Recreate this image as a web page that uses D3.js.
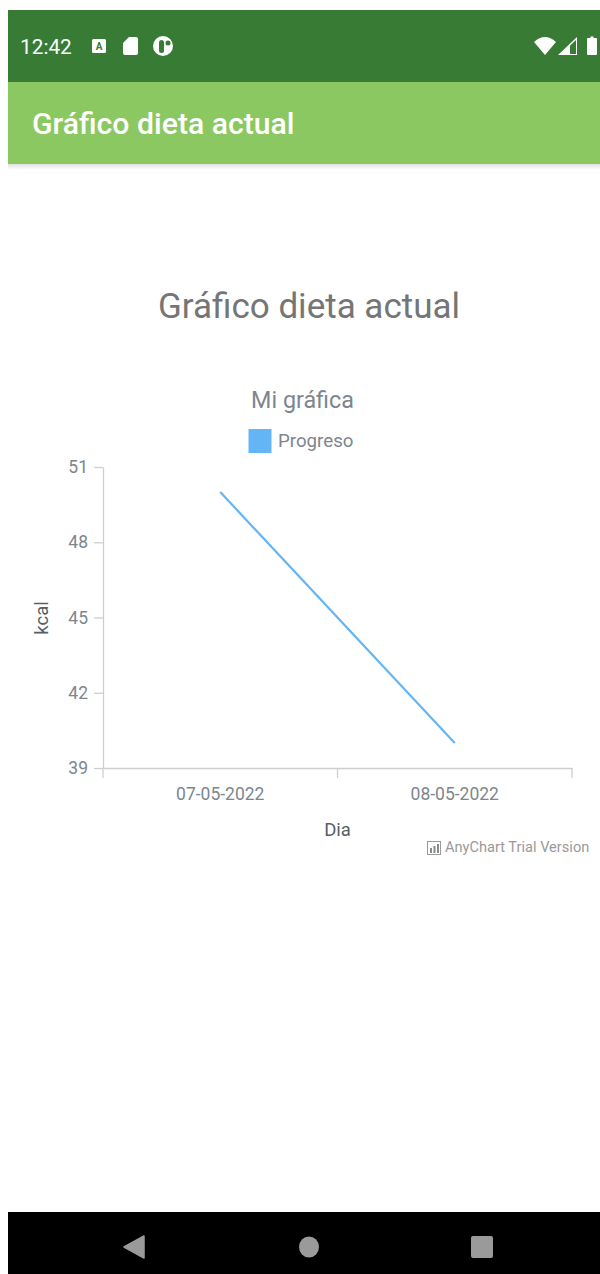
<!DOCTYPE html>
<html>
<head>
<meta charset="utf-8">
<script src="https://cdn.jsdelivr.net/npm/d3@7"></script>
<style>
html, body { margin: 0; padding: 0; background: #fff; }
svg { display: block; font-family: Roboto, sans-serif; }
.axis .domain, .axis line { stroke: #cecece; stroke-width: 1.3; }
.axis text { fill: #7c868e; font-size: 17.5px; font-family: Roboto, sans-serif; }
</style>
</head>
<body>
<div id="chart"></div>
<script>
// chart data
var dias = ['07-05-2022', '08-05-2022'];
var progreso = [50, 40];
var yTicks = [39, 42, 45, 48, 51];

var svg = d3.select('#chart')
    .append('svg')
    .attr('width', 600)
    .attr('height', 1274);

var defs = svg.append('defs');
var shadow = defs.append('linearGradient')
    .attr('id', 'shadow')
    .attr('x1', 0).attr('y1', 0).attr('x2', 0).attr('y2', 1);
shadow.append('stop').attr('offset', 0).attr('stop-color', '#000').attr('stop-opacity', 0.12);
shadow.append('stop').attr('offset', 1).attr('stop-color', '#000').attr('stop-opacity', 0);

// phone frame
svg.append('rect').attr('x', 8).attr('y', 10).attr('width', 592).attr('height', 72).attr('fill', '#387b35');
svg.append('rect').attr('x', 8).attr('y', 82).attr('width', 592).attr('height', 82).attr('fill', '#8bc862');
svg.append('rect').attr('x', 8).attr('y', 164).attr('width', 592).attr('height', 6).attr('fill', 'url(#shadow)');
svg.append('rect').attr('x', 8).attr('y', 1212).attr('width', 592).attr('height', 62).attr('fill', '#000');

svg.append('text').attr('x', 20).attr('y', 54)
    .attr('fill', '#fff').attr('font-size', 20.8).text('12:42');
svg.append('text').attr('x', 32).attr('y', 134)
    .attr('fill', '#fff').attr('font-size', 30.2).attr('font-weight', 500).text('Gráfico dieta actual');

// status icons
var icons = svg.append('g').attr('fill', '#fff');
icons.append('rect').attr('x', 92).attr('y', 39).attr('width', 14).attr('height', 14).attr('rx', 1.5);
icons.append('text').attr('x', 99).attr('y', 50).attr('text-anchor', 'middle')
    .attr('font-size', 10).attr('font-weight', 700).attr('fill', '#387b35').text('A');
icons.append('path').attr('d', 'M129 37h7a2 2 0 0 1 2 2v14a2 2 0 0 1-2 2h-11a2 2 0 0 1-2-2v-10z');
icons.append('circle').attr('cx', 163).attr('cy', 46).attr('r', 10);
icons.append('rect').attr('x', 159).attr('y', 40).attr('width', 5).attr('height', 13).attr('rx', 2.5).attr('fill', '#387b35');
icons.append('circle').attr('cx', 168).attr('cy', 43).attr('r', 2.5).attr('fill', '#387b35');
icons.append('path').attr('d', 'M534 42Q545 32 556 42L545 55z');
icons.append('path').attr('d', 'M558 55L577 37V55z');
icons.append('path').attr('d', 'M561 54L576 40V54z').attr('fill', '#387b35');
icons.append('path').attr('d', 'M560.500 54L570 45V54z');
icons.append('path').attr('d', 'M588 38h2.500v-1.500h3v1.500h2.500a1 1 0 0 1 1 1v15a1 1 0 0 1-1 1h-8a1 1 0 0 1-1-1v-15a1 1 0 0 1 1-1z');

// nav icons
var nav = svg.append('g').attr('fill', '#9a9a9a');
nav.append('path').attr('d', 'M144 1236V1258L124 1247z').attr('stroke', '#9a9a9a').attr('stroke-width', 1.500).attr('stroke-linejoin', 'round');
nav.append('ellipse').attr('cx', 309).attr('cy', 1247).attr('rx', 10).attr('ry', 10.500);
nav.append('rect').attr('x', 471).attr('y', 1236).attr('width', 22).attr('height', 22).attr('rx', 2);

// headings
svg.append('text').attr('x', 309).attr('y', 318).attr('text-anchor', 'middle')
    .attr('fill', '#757575').attr('font-size', 35).text('Gráfico dieta actual');
svg.append('text').attr('x', 302.500).attr('y', 408).attr('text-anchor', 'middle')
    .attr('fill', '#7c868e').attr('font-size', 23.3).text('Mi gráfica');

// legend
svg.append('rect').attr('x', 248.500).attr('y', 429).attr('width', 23).attr('height', 24).attr('fill', '#64b5f6');
svg.append('text').attr('x', 278).attr('y', 447)
    .attr('fill', '#7c868e').attr('font-size', 18.7).text('Progreso');

// scales
var x = d3.scaleBand().domain(dias).range([103, 572]);
var y = d3.scaleLinear().domain([39, 51]).range([768, 467]);

var yAxis = d3.axisLeft(y)
    .tickValues(yTicks)
    .tickSize(9)
    .tickSizeOuter(0)
    .tickPadding(6);

svg.append('g')
    .attr('class', 'axis')
    .attr('transform', 'translate(103,0)')
    .call(yAxis);

var xAxis = d3.axisBottom(x)
    .tickSize(0)
    .tickSizeOuter(0)
    .tickPadding(20);

svg.append('g')
    .attr('class', 'axis')
    .attr('transform', 'translate(0,768)')
    .call(xAxis);

// ticks sit on the band edges, not the centres
var bordes = dias.map(function(d){ return x(d); }).concat([x.range()[1]]);
svg.selectAll('.band-tick')
    .data(bordes)
    .enter()
    .append('line')
    .attr('class', 'band-tick')
    .attr('x1', function(d){ return d; })
    .attr('x2', function(d){ return d; })
    .attr('y1', 768)
    .attr('y2', 778)
    .attr('stroke', '#cecece')
    .attr('stroke-width', 1.3);

// axis titles
svg.append('text')
    .attr('transform', 'translate(48,618) rotate(-90)')
    .attr('text-anchor', 'middle')
    .attr('fill', '#545f69')
    .attr('font-size', 18.5)
    .text('kcal');
svg.append('text')
    .attr('x', 337.500).attr('y', 836)
    .attr('text-anchor', 'middle')
    .attr('fill', '#545f69')
    .attr('font-size', 18.5)
    .text('Dia');

// series
var line = d3.line()
    .x(function(d, i){ return x(dias[i]) + x.bandwidth() / 2; })
    .y(function(d){ return y(d); });

svg.append('path')
    .datum(progreso)
    .attr('d', line)
    .attr('fill', 'none')
    .attr('stroke', '#64b5f6')
    .attr('stroke-width', 2.2);

// trial watermark
var marca = svg.append('g');
marca.append('rect').attr('x', 427.500).attr('y', 841.500).attr('width', 13).attr('height', 13)
    .attr('fill', 'none').attr('stroke', '#9a9a9a').attr('stroke-width', 1);
marca.append('path').attr('d', 'M430 848h2v5h-2zM433.500 846h2v7h-2zM437 844h2v9h-2z').attr('fill', '#8a8a8a');
svg.append('text').attr('x', 445).attr('y', 852)
    .attr('fill', '#9a9a9a').attr('font-size', 14.6).text('AnyChart Trial Version');
</script>
</body>
</html>
